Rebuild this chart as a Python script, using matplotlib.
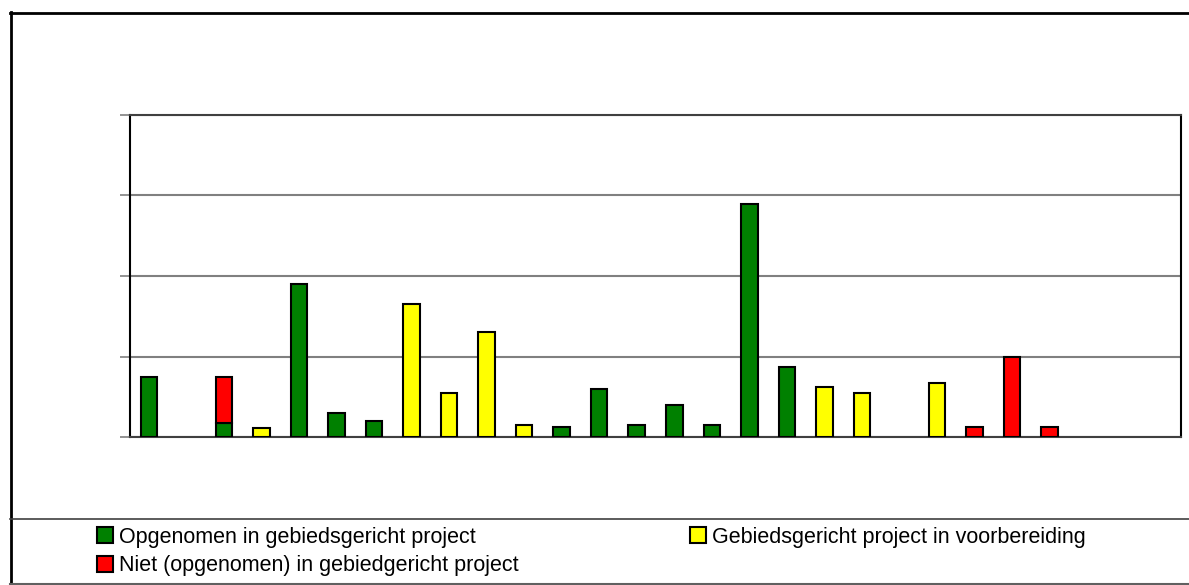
import matplotlib
matplotlib.use("Agg")
import matplotlib.pyplot as plt
import numpy as np
from matplotlib.lines import Line2D

plt.rcParams['font.family'] = ['Liberation Sans', 'DejaVu Sans']

n_categories = 28
categories = list(range(n_categories))

# values (grid step = 20 units)
green = [15, 0, 3.5, 0, 38, 6, 4, 0, 0, 0, 0, 2.5, 12, 3, 8, 3, 58, 17.5,
         0, 0, 0, 0, 0, 0, 0, 0, 0, 0]
yellow = [0, 0, 0, 2.2, 0, 0, 0, 33, 11, 26, 3, 0, 0, 0, 0, 0, 0, 0,
          12.5, 11, 0, 13.5, 0, 0, 0, 0, 0, 0]
red = [0, 0, 11.5, 0, 0, 0, 0, 0, 0, 0, 0, 0, 0, 0, 0, 0, 0, 0,
       0, 0, 0, 0, 2.5, 20, 2.5, 0, 0, 0]

labels = ["Opgenomen in gebiedsgericht project",
          "Niet (opgenomen) in gebiedgericht project",
          "Gebiedsgericht project in voorbereiding"]
colors = {"green": "#008000", "yellow": "#FFFF00", "red": "#FF0000"}

W, H = 1189, 585
fig = plt.figure(figsize=(W / 100, H / 100), dpi=100)
fig.patch.set_facecolor("white")

ax = fig.add_axes([130 / W, (H - 437) / H, (1181 - 130) / W, (437 - 115) / H])
x = np.arange(n_categories)
bw = 0.44
g = np.array(green)
y = np.array(yellow)
r = np.array(red)
edge = dict(edgecolor="black", linewidth=1.5)
m = g > 0
ax.bar(x[m], g[m], bw, color=colors["green"], **edge, zorder=3)
m = y > 0
ax.bar(x[m], y[m], bw, color=colors["yellow"], **edge, zorder=3)
m = r > 0
ax.bar(x[m], r[m], bw, bottom=g[m], color=colors["red"], **edge, zorder=3)

ax.set_xlim(-0.5, n_categories - 0.5)
ax.set_ylim(0, 80)
ax.set_yticks([0, 20, 40, 60, 80])
ax.set_yticklabels([])
ax.set_xticks([])
ax.tick_params(axis="y", length=7, width=1.2, color="#808080", direction="out")
ax.yaxis.grid(True, color="#808080", linewidth=1.5, zorder=0)
ax.set_axisbelow(True)
ax.spines["left"].set_color("black")
ax.spines["left"].set_linewidth(1.5)
ax.spines["right"].set_color("black")
ax.spines["right"].set_linewidth(1.5)
ax.spines["top"].set_color("#404040")
ax.spines["top"].set_linewidth(1.5)
ax.spines["bottom"].set_color("#404040")
ax.spines["bottom"].set_linewidth(1.5)

# outer frame
def fl(x0, y0, x1, y1, c="black", lw=1.5):
    fig.add_artist(Line2D([x0 / W, x1 / W], [1 - y0 / H, 1 - y1 / H],
                          color=c, linewidth=lw, transform=fig.transFigure))

fl(10.5, 12, 10.5, 585, "black", 2)
fl(10, 12.5, W, 12.5, "black", 2)
fl(10, 519, W, 519, "#404040", 1.2)
fl(10, 583.5, W, 583.5, "#606060", 1.5)

def handle(c):
    return Line2D([], [], marker="s", linestyle="none", markersize=11,
                  markerfacecolor=c, markeredgecolor="black", markeredgewidth=1.5)

fs = 15.5
common = dict(loc="upper left", frameon=False, fontsize=fs, handlelength=1.0,
              handletextpad=0.15, labelspacing=0.33, borderpad=0, borderaxespad=0)
leg1 = fig.legend([handle(colors["green"]), handle(colors["red"])], labels[:2],
                  bbox_to_anchor=(94.3 / W, 1 - 527 / H), **common)
leg2 = fig.legend([handle(colors["yellow"])], labels[2:],
                  bbox_to_anchor=(687.3 / W, 1 - 527 / H), **common)

fig.savefig("out.png", dpi=100, facecolor="white")
